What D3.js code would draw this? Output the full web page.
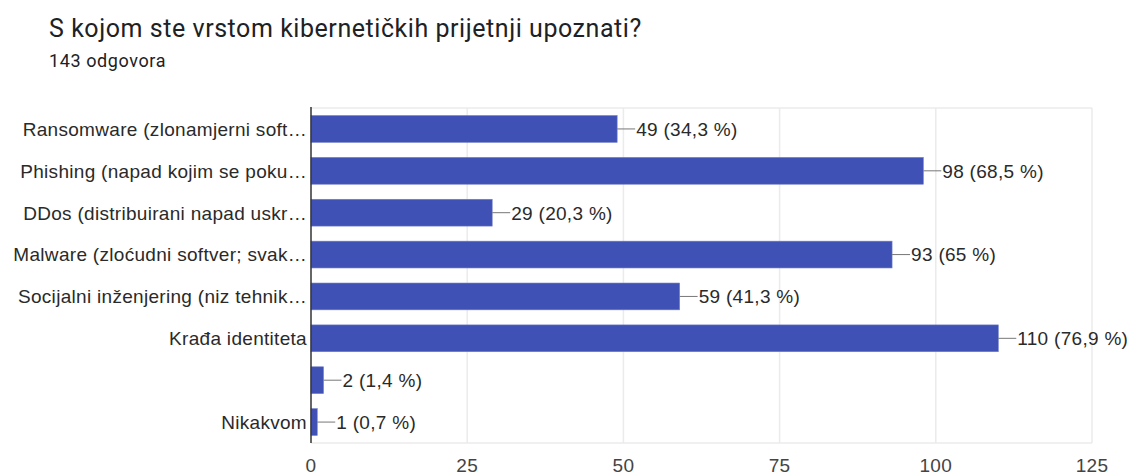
<!DOCTYPE html>
<html>
<head>
<meta charset="utf-8">
<script src="https://cdn.jsdelivr.net/npm/d3@7"></script>
<style>
  body { margin:0; background:#fff; font-family:Roboto, "Noto Sans", sans-serif; }
  .chart-text { font-family:"Liberation Sans", Arial, sans-serif; letter-spacing:0.3px; }
</style>
</head>
<body>
<div id="chart"></div>
<script>
var categories = [
  "Ransomware (zlonamjerni soft…",
  "Phishing (napad kojim se poku…",
  "DDos (distribuirani napad uskr…",
  "Malware (zloćudni softver; svak…",
  "Socijalni inženjering (niz tehnik…",
  "Krađa identiteta",
  "",
  "Nikakvom"
];
var counts = [49, 98, 29, 93, 59, 110, 2, 1];
var percents = ["34,3", "68,5", "20,3", "65", "41,3", "76,9", "1,4", "0,7"];
var ticks = [0, 25, 50, 75, 100, 125];

var width = 1131, height = 475;
var margin = {top:108, left:311, right:39, bottom:32};

var svg = d3.select("#chart").append("svg")
  .attr("width", width)
  .attr("height", height);

svg.append("text")
  .attr("x", 49).attr("y", 37)
  .style("font-size", "25px")
  .style("letter-spacing", "0.55px")
  .style("fill", "#202124")
  .text("S kojom ste vrstom kibernetičkih prijetnji upoznati?");

svg.append("text")
  .attr("x", 49).attr("y", 67)
  .style("font-size", "18px")
  .style("letter-spacing", "0.6px")
  .style("fill", "#202124")
  .text("143 odgovora");

var x = d3.scaleLinear().domain([0, 125]).range([margin.left, width - margin.right]);
var y = d3.scaleBand().domain(d3.range(categories.length))
  .range([margin.top, height - margin.bottom])
  .paddingInner(0.36).paddingOuter(0.18);

// gridlines
svg.append("g").selectAll("line").data(ticks.slice(1)).join("line")
  .attr("x1", d => x(d)).attr("x2", d => x(d))
  .attr("y1", margin.top).attr("y2", 443)
  .attr("stroke", "#ebebeb").attr("stroke-width", 1.5);
svg.append("line")
  .attr("x1", margin.left).attr("x2", x(125))
  .attr("y1", margin.top).attr("y2", margin.top)
  .attr("stroke", "#ebebeb").attr("stroke-width", 1.5);
svg.append("line")
  .attr("x1", margin.left).attr("x2", x(125))
  .attr("y1", 443).attr("y2", 443)
  .attr("stroke", "#ebebeb").attr("stroke-width", 1.5);

// tick labels
svg.append("g").attr("class", "chart-text").selectAll("text").data(ticks).join("text")
  .attr("x", d => x(d)).attr("y", 472)
  .attr("text-anchor", "middle")
  .style("font-size", "19px")
  .style("fill", "#444")
  .text(d => d);

// bars
svg.append("g").selectAll("rect").data(counts).join("rect")
  .attr("x", x(0))
  .attr("y", (d, i) => y(i))
  .attr("width", d => x(d) - x(0))
  .attr("height", y.bandwidth())
  .attr("fill", "#3f51b5")
  .attr("stroke", "#6f7cc9").attr("stroke-width", 0.6);

// connectors + value labels
var g = svg.append("g").attr("class", "chart-text");
g.selectAll("line").data(counts).join("line")
  .attr("x1", d => x(d)).attr("x2", d => x(d) + 18)
  .attr("y1", (d, i) => y(i) + y.bandwidth() / 2)
  .attr("y2", (d, i) => y(i) + y.bandwidth() / 2)
  .attr("stroke", "#777").attr("stroke-width", 1);
g.selectAll("text").data(counts).join("text")
  .attr("x", d => x(d) + 19)
  .attr("y", (d, i) => y(i) + y.bandwidth() / 2)
  .attr("dy", "0.36em")
  .style("font-size", "19px")
  .style("fill", "#2a2a2a")
  .text((d, i) => d + " (" + percents[i] + " %)");

// category labels
svg.append("g").attr("class", "chart-text").selectAll("text").data(categories).join("text")
  .attr("x", margin.left - 4)
  .attr("y", (d, i) => y(i) + y.bandwidth() / 2)
  .attr("dy", "0.36em")
  .attr("text-anchor", "end")
  .style("font-size", "19px")
  .style("fill", "#2a2a2a")
  .text(d => d);

// zero axis
svg.append("line")
  .attr("x1", x(0)).attr("x2", x(0))
  .attr("y1", margin.top - 1).attr("y2", 443)
  .attr("stroke", "#333").attr("stroke-width", 1.5);
</script>
</body>
</html>
